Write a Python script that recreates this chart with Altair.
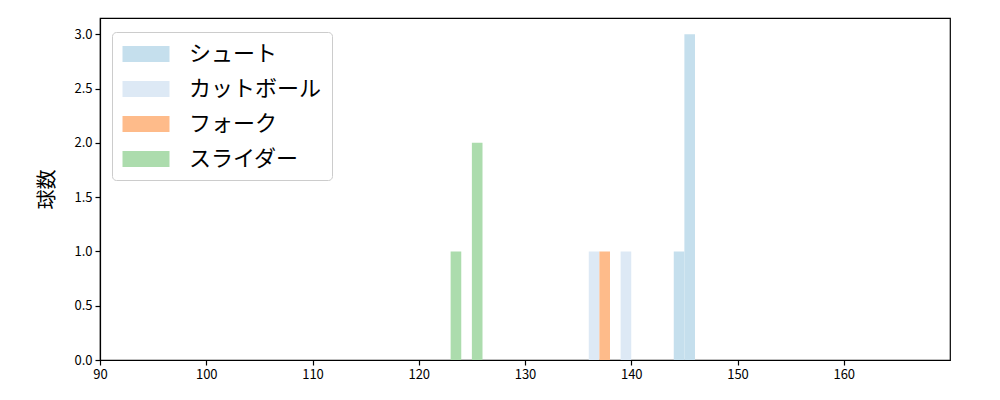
import altair as alt
import pandas as pd

pitch_types = ["シュート", "カットボール", "フォーク", "スライダー"]
colors = ["#c5dfed", "#dde9f5", "#febb8a", "#acdcad"]

shoot_bins = [(144.0, 145.0), (145.0, 146.0)]
shoot_counts = [1, 3]
cut_bins = [(136.0, 137.0), (139.0, 140.0)]
cut_counts = [1, 1]
fork_bins = [(137.0, 138.0)]
fork_counts = [1]
slider_bins = [(123.0, 124.0), (125.0, 126.0)]
slider_counts = [1, 2]

rows = []
for name, bins, counts in [
    ("シュート", shoot_bins, shoot_counts),
    ("カットボール", cut_bins, cut_counts),
    ("フォーク", fork_bins, fork_counts),
    ("スライダー", slider_bins, slider_counts),
]:
    for (a, b), c in zip(bins, counts):
        rows.append({"type": name, "start": a, "end": b, "count": c})
df = pd.DataFrame(rows)

FONT = "Noto Sans CJK JP"

chart = (
    alt.Chart(df)
    .mark_bar(stroke=None, opacity=1)
    .encode(
        x=alt.X(
            "start:Q",
            scale=alt.Scale(domain=[90, 170], nice=False, zero=False),
            axis=alt.Axis(values=[90, 100, 110, 120, 130, 140, 150, 160], title=None, format="d"),
        ),
        x2="end:Q",
        y=alt.Y(
            "count:Q",
            scale=alt.Scale(domain=[0, 3.15], nice=False),
            axis=alt.Axis(values=[0, 0.5, 1.0, 1.5, 2.0, 2.5, 3.0], format=".1f", title="球数"),
        ),
        y2=alt.datum(0),
        color=alt.Color(
            "type:N",
            scale=alt.Scale(domain=pitch_types, range=colors),
            legend=alt.Legend(
                title=None,
                orient="none",
                legendX=12,
                legendY=14,
                symbolType="M-2,-0.68L2,-0.68L2,0.68L-2,0.68Z",
                symbolSize=552,
                symbolStrokeWidth=0,
                symbolOpacity=1,
                symbolOffset=12,
                labelFontSize=22,
                labelFont=FONT,
                labelColor="#000000",
                labelOffset=31,
                rowPadding=12,
                padding=10,
                offset=0,
                fillColor="white",
                strokeColor="#cccccc",
                cornerRadius=4,
            ),
        ),
    )
    .properties(
        width=850,
        height=342,
        padding={"left": 92, "top": 10, "right": 30, "bottom": 30},
        autosize=alt.AutoSizeParams(type="none"),
    )
    .configure_view(stroke="#000000", strokeWidth=1.2)
    .configure_axis(
        labelFont=FONT,
        labelFontSize=13,
        labelColor="#000000",
        labelFlush=False,
        tickColor="#000000",
        tickSize=5,
        tickWidth=1.2,
        domainColor="#000000",
        domainWidth=1.2,
        grid=False,
        titleFont=FONT,
        titleFontSize=20,
        titleFontWeight="normal",
        titleColor="#000000",
        labelPadding=3,
    )
    .configure_axisY(titlePadding=16)
)

chart.save("out.html", embed_options={"renderer": "svg", "actions": False})
